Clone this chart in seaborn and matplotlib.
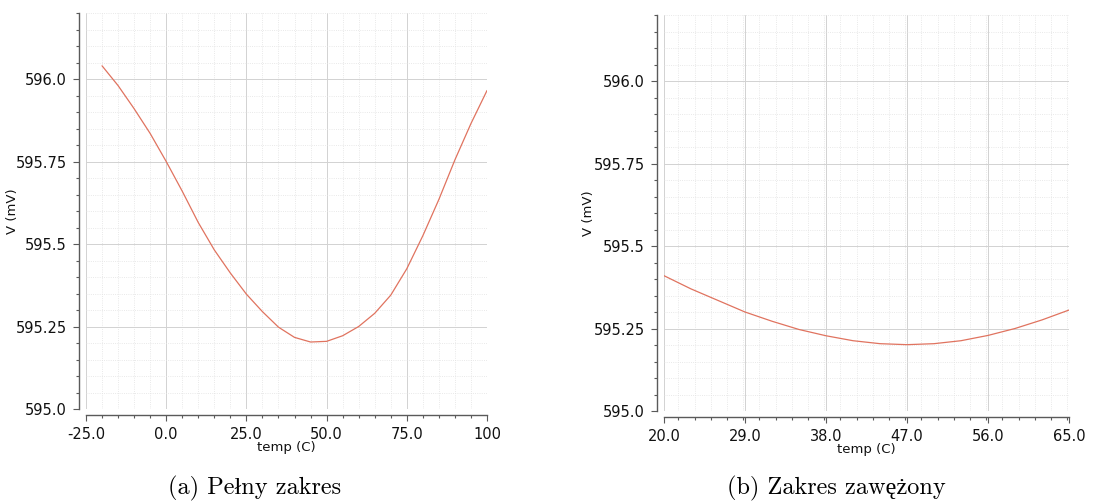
import numpy as np
import pandas as pd
import matplotlib
matplotlib.use("Agg")
import matplotlib.pyplot as plt
from matplotlib.ticker import FixedLocator, MultipleLocator
import seaborn as sns

# Full temperature sweep (deg C) and reference voltage (mV)
temp_full = [-20, -15, -10, -5, 0, 5, 10, 15, 20, 25, 30, 35, 40, 45, 50,
             55, 60, 65, 70, 75, 80, 85, 90, 95, 100]
v_full = [596.04, 595.98, 595.91, 595.835, 595.75, 595.66, 595.565, 595.482,
          595.412, 595.348, 595.295, 595.248, 595.217, 595.203, 595.205,
          595.222, 595.25, 595.29, 595.345, 595.425, 595.525, 595.635,
          595.755, 595.865, 595.965]

# Narrowed sweep around the minimum
temp_narrow = [20, 23, 26, 29, 32, 35, 38, 41, 44, 47, 50, 53, 56, 59, 62, 65]
v_narrow = [595.41, 595.37, 595.335, 595.30, 595.272, 595.247, 595.228,
            595.213, 595.204, 595.201, 595.204, 595.213, 595.229, 595.25,
            595.276, 595.306]

y_ticks = [595.0, 595.25, 595.5, 595.75, 596.0]
y_tick_labels = ["595.0", "595.25", "595.5", "595.75", "596.0"]

x_ticks_full = [-25, 0, 25, 50, 75, 100]
x_tick_labels_full = ["-25.0", "0.0", "25.0", "50.0", "75.0", "100"]

x_ticks_narrow = [20, 29, 38, 47, 56, 65]
x_tick_labels_narrow = ["20.0", "29.0", "38.0", "47.0", "56.0", "65.0"]

captions = ["(a) Pełny zakres", "(b) Zakres zawężony"]

sns.set_theme(style="white")
plt.rcParams["font.family"] = ["DejaVu Sans"]
plt.rcParams["axes.unicode_minus"] = False

LINE = "#e0735f"
W, H = 1114, 504
fig = plt.figure(figsize=(W / 100, H / 100), dpi=100)


def px_axes(x0, y0, x1, y1):
    return fig.add_axes([x0 / W, 1 - y1 / H, (x1 - x0) / W, (y1 - y0) / H])


def style(ax, xlim, xticks, xlabels, xminor, ylab_x):
    ax.set_xlim(*xlim)
    ax.set_ylim(595.0, 596.2)
    ax.xaxis.set_major_locator(FixedLocator(xticks))
    ax.set_xticklabels(xlabels)
    ax.xaxis.set_minor_locator(MultipleLocator(xminor))
    ax.yaxis.set_major_locator(FixedLocator(y_ticks))
    ax.set_yticklabels(y_tick_labels)
    ax.yaxis.set_minor_locator(MultipleLocator(0.05))
    for s in ("top", "right"):
        ax.spines[s].set_visible(False)
    ax.spines["left"].set_position(("outward", 5))
    ax.spines["bottom"].set_position(("outward", 4))
    for s in ("left", "bottom"):
        ax.spines[s].set_color("#5a5a5a")
        ax.spines[s].set_linewidth(1.0)
    ax.tick_params(which="major", length=4, width=0.8, color="#5a5a5a",
                   labelsize=10.5, pad=5, labelcolor="#111111",
                   bottom=True, left=True)
    ax.tick_params(which="minor", length=2.5, width=0.8, color="#5a5a5a",
                   bottom=True, left=True)
    ax.grid(which="major", color="#d2d2d2", linewidth=0.7)
    ax.grid(which="minor", color="#e2e2e2", linewidth=0.6, linestyle=":")
    ax.set_axisbelow(True)
    ax.set_xlabel("temp (C)", fontsize=9.5, labelpad=-1, color="#111111")
    ax.set_ylabel("V (mV)", fontsize=9.5, color="#111111")
    ax.yaxis.set_label_coords(ylab_x, 0.5)


ax1 = px_axes(86, 13, 487, 409)
sns.lineplot(x=temp_full, y=v_full, ax=ax1, color=LINE, linewidth=0.9)
style(ax1, (-25, 100), x_ticks_full, x_tick_labels_full, 5, -0.167)

ax2 = px_axes(664, 15, 1069, 411)
sns.lineplot(x=temp_narrow, y=v_narrow, ax=ax2, color=LINE, linewidth=0.9)
style(ax2, (20, 65), x_ticks_narrow, x_tick_labels_narrow, 1.8, -0.170)

cap_font = ["cmr10", "Liberation Serif"]
fig.text(255 / W, 1 - 488 / H, captions[0], ha="center", va="center",
         fontsize=17.5, family=cap_font, color="#000000")
fig.text(836 / W, 1 - 488 / H, captions[1], ha="center", va="center",
         fontsize=17.5, family=cap_font, color="#000000")

fig.savefig("out.png", dpi=100, facecolor="white")
